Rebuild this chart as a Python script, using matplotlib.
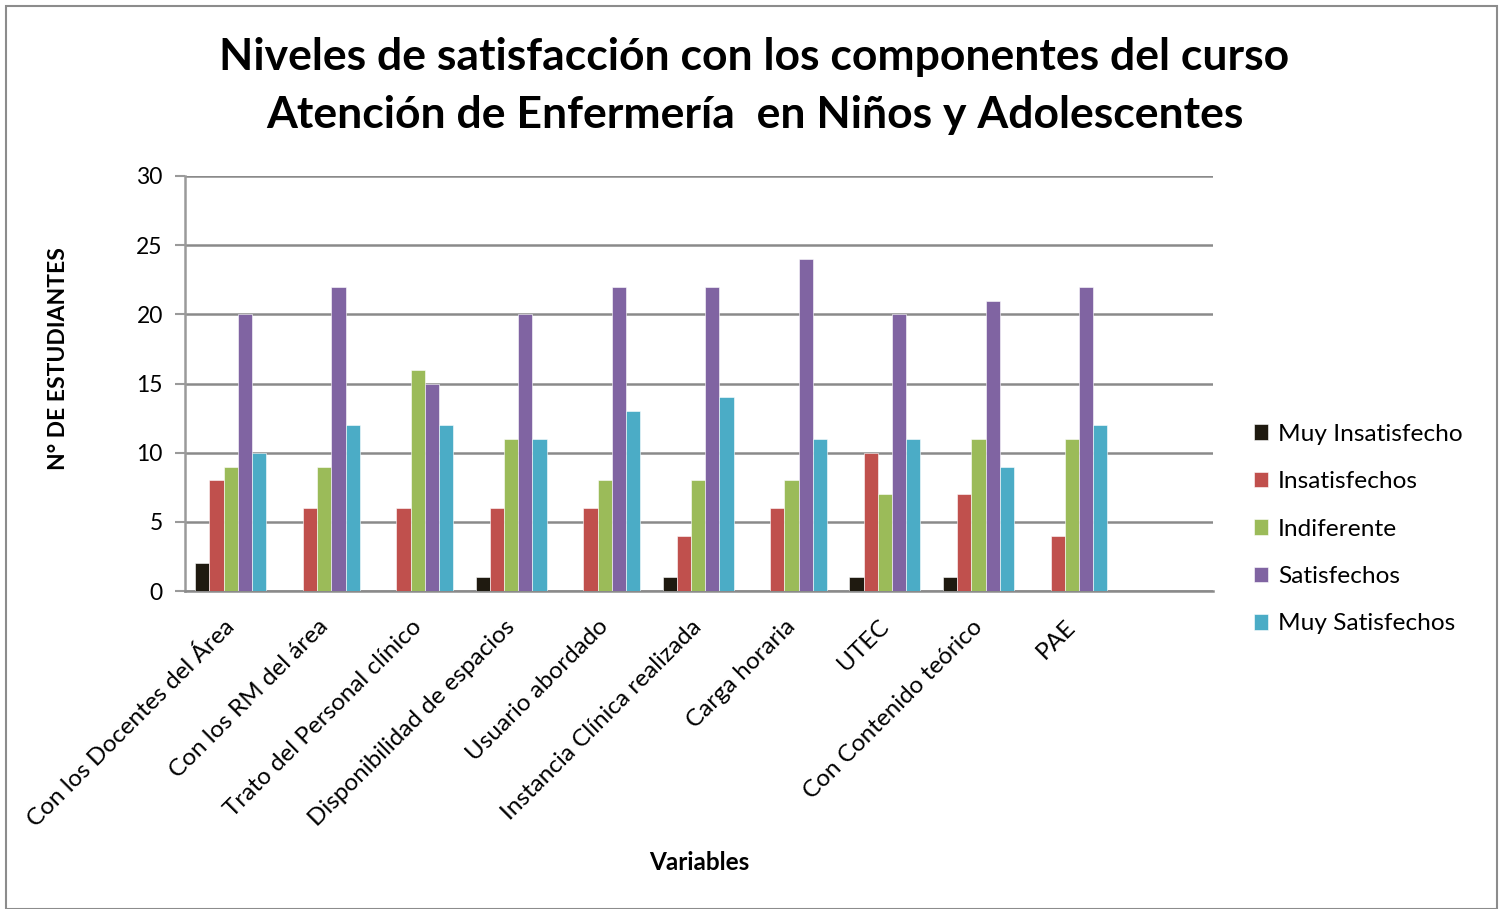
import numpy as np
import matplotlib.pyplot as plt
import matplotlib.transforms as mtransforms
from matplotlib.patches import Rectangle

plt.rcParams['font.family'] = ['Lato', 'DejaVu Sans']

# --- Datos ---
variables = ["Con los Docentes del Área", "Con los RM del área", "Trato del Personal clínico",
             "Disponibilidad de espacios", "Usuario abordado", "Instancia Clínica realizada",
             "Carga horaria", "UTEC", "Con Contenido teórico", "PAE"]
series = ["Muy Insatisfecho", "Insatisfechos", "Indiferente", "Satisfechos", "Muy Satisfechos"]
muy_insatisfecho = [2, 0, 0, 1, 0, 1, 0, 1, 1, 0]
insatisfechos = [8, 6, 6, 6, 6, 4, 6, 10, 7, 4]
indiferente = [9, 9, 16, 11, 8, 8, 8, 7, 11, 11]
satisfechos = [20, 22, 15, 20, 22, 22, 24, 20, 21, 22]
muy_satisfechos = [10, 12, 12, 11, 13, 14, 11, 11, 9, 12]
colores = ["#1F1A10", "#C0504D", "#9BBB59", "#8064A2", "#4BACC6"]

valores = [muy_insatisfecho, insatisfechos, indiferente, satisfechos, muy_satisfechos]

fig = plt.figure(figsize=(15.03, 9.09), dpi=100)
W, H = 1503, 909
ax = fig.add_axes([185 / W, 1 - 591 / H, (1213 - 185) / W, (591 - 176) / H])

# borde exterior del gráfico
fig.patches.append(Rectangle((6 / W, 0), (1497 - 6) / W, 1 - 6 / H, transform=fig.transFigure,
                             fill=False, edgecolor="#8c8c8c", linewidth=1.5))

x = np.arange(len(variables))
ancho = 0.152
for i, (nombre, vals) in enumerate(zip(series, valores)):
    ax.bar(x + (i - 2) * ancho - 0.01, vals, ancho, color=colores[i], label=nombre,
           edgecolor="white", linewidth=0.4, zorder=3)

ax.set_xlim(-0.5, len(variables) + 0.5)
ax.set_ylim(0, 30)
ax.set_yticks(range(0, 31, 5))
ax.yaxis.grid(True, color="#8a8a8a", linewidth=1.8, zorder=0)
ax.set_axisbelow(True)
for lado in ["top", "right"]:
    ax.spines[lado].set_visible(False)
ax.spines["left"].set_color("#9a9a9a")
ax.spines["left"].set_linewidth(1.8)
ax.spines["bottom"].set_color("#8a8a8a")
ax.spines["bottom"].set_linewidth(1.8)
ax.tick_params(axis="y", length=7, width=1.5, color="#9a9a9a", labelsize=16.5, pad=9)
ax.tick_params(axis="x", length=0, pad=18)
ax.set_xticks(x)
ax.set_xticklabels(variables, rotation=45, ha="right", rotation_mode="anchor", fontsize=17.5)
desplazamiento = mtransforms.ScaledTranslation(-8 / 100, 0, fig.dpi_scale_trans)
for etiqueta in ax.get_xticklabels():
    etiqueta.set_transform(etiqueta.get_transform() + desplazamiento)

ax.set_ylabel("N° DE ESTUDIANTES", fontsize=16.5, fontweight="bold")
ax.yaxis.set_label_coords(-0.113, 0.561)
ax.set_xlabel("Variables", fontsize=17.5, fontweight="bold")
ax.xaxis.set_label_coords(0.5, -0.627)

fig.text(0.502, 1 - 86 / H, "Niveles de satisfacción con los componentes del curso\nAtención de Enfermería  en Niños y Adolescentes",
         ha="center", va="center", fontsize=32, fontweight="bold", linespacing=1.53)

ax.legend(loc="center left", bbox_to_anchor=(1.018, 0.149), frameon=False, fontsize=17.6,
          handlelength=0.6, handleheight=0.6, handletextpad=0.4, labelspacing=1.08)

plt.savefig("out.png", dpi=100)
